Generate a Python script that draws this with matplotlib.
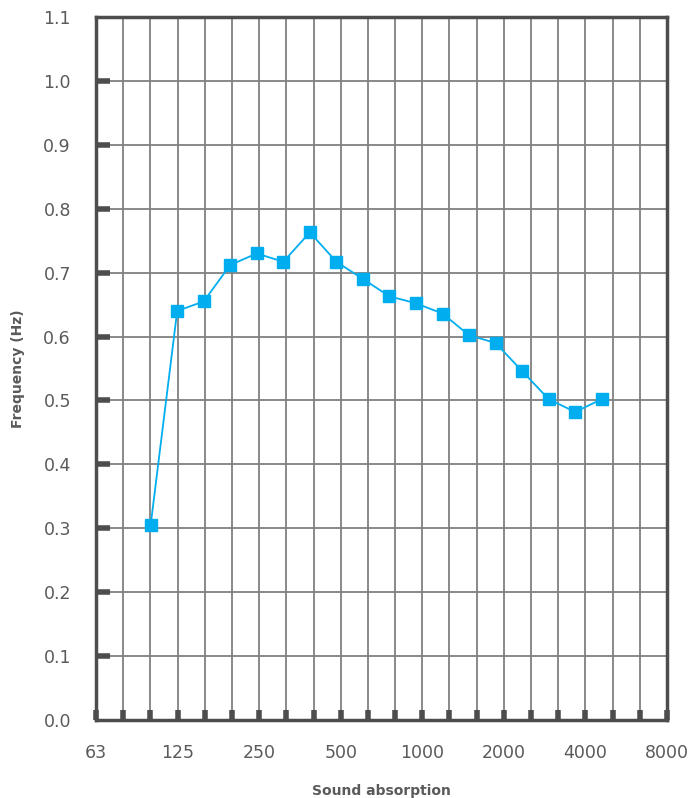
import numpy as np
import matplotlib.pyplot as plt

bands = ['100', '125', '160', '200', '250', '315', '400', '500', '630', '800',
         '1000', '1250', '1600', '2000', '2500', '3150', '4000', '5000']
values = [0.305, 0.64, 0.655, 0.712, 0.73, 0.717, 0.763, 0.717, 0.69, 0.663,
          0.652, 0.636, 0.602, 0.59, 0.546, 0.502, 0.482, 0.502]

# x axis labels (one every third band, 63 .. 8000)
xlabels = ['63', '125', '250', '500', '1000', '2000', '4000', '8000']
yticks = [0.0, 0.1, 0.2, 0.3, 0.4, 0.5, 0.6, 0.7, 0.8, 0.9, 1.0, 1.1]

text_col = '#5a5a5a'
spine_col = '#4d4d4d'
grid_col = '#808080'
line_col = '#00aeef'

fig = plt.figure(figsize=(6.96, 7.98), dpi=100)
ax = fig.add_axes([96 / 696, 78 / 798, 571 / 696, 703 / 798])

n_grid = 21
ax.set_xlim(0, n_grid)
ax.set_ylim(0, 1.1)

# a tick and grid line at every band, a label every third band
ticklabels = [''] * (n_grid + 1)
ticklabels[::3] = xlabels
ax.set_xticks(np.arange(0, n_grid + 1))
ax.set_xticklabels(ticklabels)
ax.set_yticks(yticks)
ax.set_yticklabels(['%.1f' % v for v in yticks])

ax.grid(True, color=grid_col, linewidth=1.3)
ax.set_axisbelow(True)

ax.tick_params(axis='x', direction='in', length=7, width=4,
               color=spine_col, pad=17, labelsize=12.5, labelcolor=text_col)
ax.tick_params(axis='y', direction='in', length=10, width=4,
               color=spine_col, pad=18, labelsize=12.5, labelcolor=text_col)
# no marks where the ticks would sit on the frame
ax.yaxis.get_major_ticks()[0].tick1line.set_visible(False)
ax.yaxis.get_major_ticks()[-1].tick1line.set_visible(False)
ax.xaxis.get_major_ticks()[0].tick1line.set_visible(False)
ax.xaxis.get_major_ticks()[-1].tick1line.set_visible(False)

for s in ax.spines.values():
    s.set_color(spine_col)
    s.set_linewidth(2.5)

ax.set_xlabel('Sound absorption', fontsize=10, fontweight='bold',
              color=text_col, labelpad=16)
ax.set_ylabel('Frequency (Hz)', fontsize=10, fontweight='bold',
              color=text_col, labelpad=13)

# measured curve sits on its own band scale
ax2 = ax.twiny()
ax2.set_xlim(-2.06, 19.46)
ax2.plot(range(len(bands)), values, color=line_col, linewidth=1.3,
         marker='s', markersize=8, markerfacecolor=line_col,
         markeredgecolor=line_col, zorder=5)
ax2.set_xticks([])
for s in ax2.spines.values():
    s.set_visible(False)

fig.savefig('out.png', dpi=100)
